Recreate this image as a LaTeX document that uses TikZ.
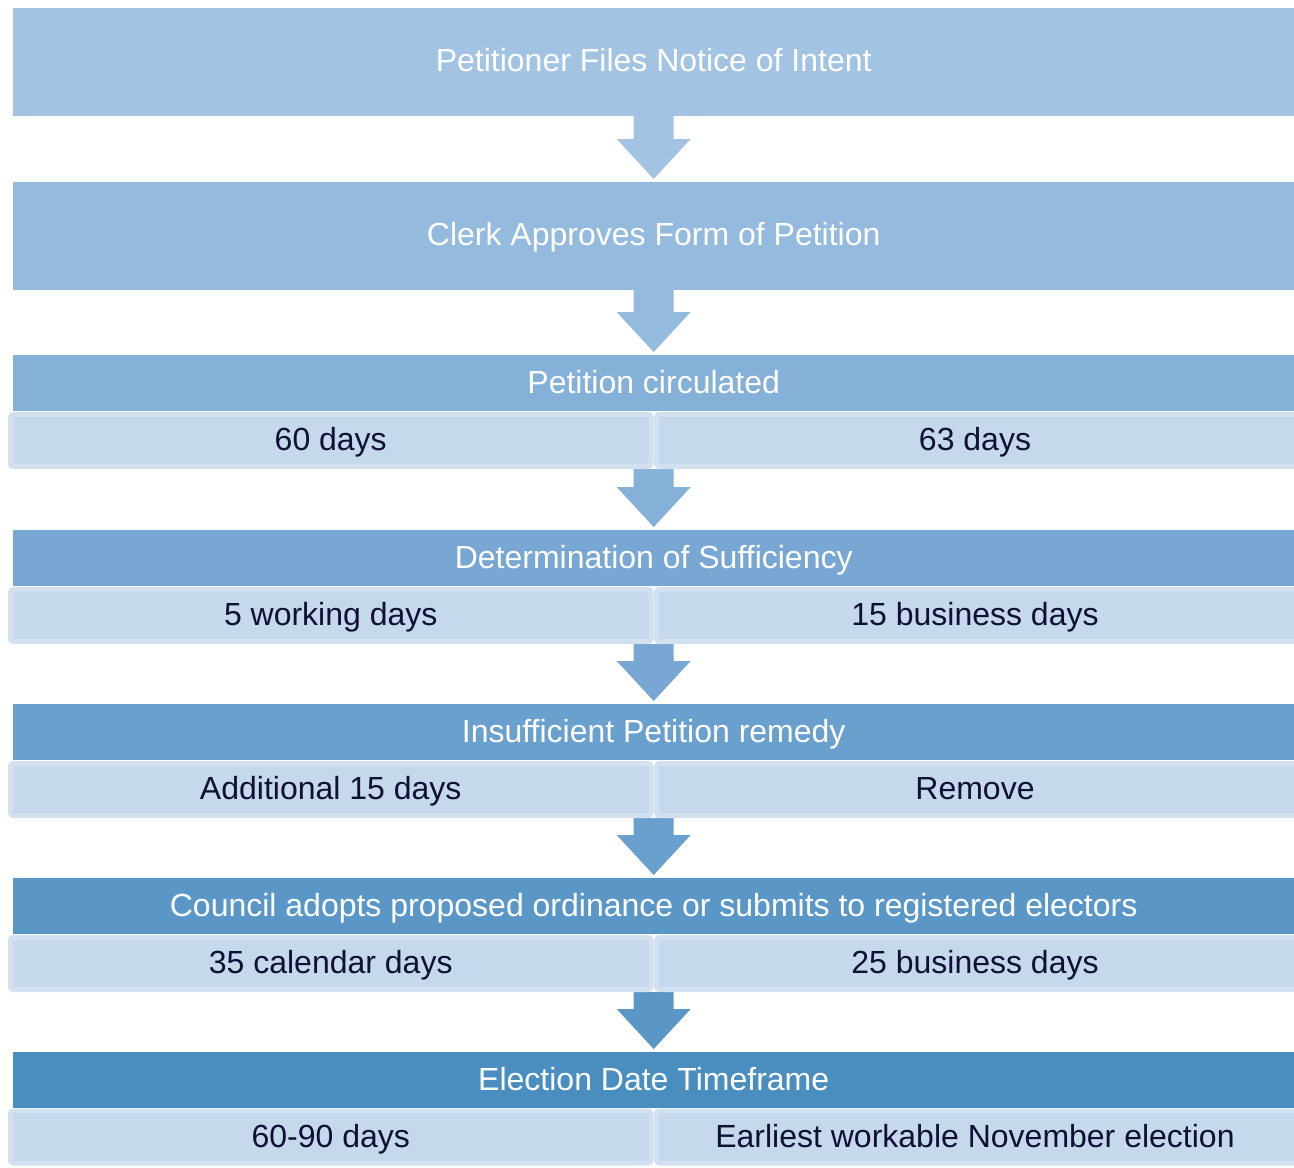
\documentclass[tikz,border=0pt]{standalone}
\usepackage{fontspec}
\setmainfont{Liberation Sans}
\usetikzlibrary{calc}
\pgfdeclarelayer{background}
\pgfsetlayers{background,main}
\definecolor{cA}{HTML}{A3C3E2}
\definecolor{cB}{HTML}{94BADD}
\definecolor{cC}{HTML}{85B0D7}
\definecolor{cD}{HTML}{77A7D2}
\definecolor{cE}{HTML}{69A0CD}
\definecolor{cF}{HTML}{5A97C7}
\definecolor{cG}{HTML}{4A8EC0}
\definecolor{subfill}{HTML}{C6D8EC}
\definecolor{subedge}{HTML}{D2E0F0}
\definecolor{navy}{HTML}{0F1035}
\newcommand{\dnarrow}[3]{%
  \begin{pgfonlayer}{background}
  \fill[#1] let \p1=(#2), \p2=(#3) in
    (\x2-20pt,\y1) -- (\x2-20pt,\y2+43pt) -- (\x2-37pt,\y2+43pt) --
    (\x2,\y2+3pt) -- (\x2+37pt,\y2+43pt) -- (\x2+20pt,\y2+43pt) --
    (\x2+20pt,\y1) -- cycle;
  \end{pgfonlayer}}
\newcommand{\rt}[1]{\hspace*{-5pt}#1}
\tikzset{
  txt/.style={font=\fontsize{32}{38}\selectfont, text height=26pt, text depth=6pt},
  bigbox/.style={txt, anchor=north west, inner sep=0pt, minimum width=1281pt,
    minimum height=107.5pt, text=white},
  hdr/.style={txt, anchor=north west, inner sep=0pt, minimum width=1281pt,
    minimum height=56pt, text=white},
  subbox/.style={txt, draw=subedge, fill=subfill, line width=5pt,
    rounded corners=3pt, inner sep=0pt, minimum height=52pt, text=navy},
  subl/.style={subbox, minimum width=640.5pt},
  subr/.style={subbox, minimum width=642pt},
}
\begin{document}
\begin{tikzpicture}[x=1pt,y=-1pt]
\useasboundingbox (0,0) rectangle (1294,1168);
\clip (0,0) rectangle (1294,1168);

\node[bigbox, fill=cA] (b1) at (13,8) {Petitioner Files Notice of Intent};
\node[bigbox, fill=cB] (b2) at (13,182) {Clerk Approves Form of Petition};

\node[hdr, fill=cC] (h3) at (13,355) {Petition circulated};
\node[subl] (s3l) at (330.75,440.5) {60 days};
\node[subr] (s3r) at (977.5,440.5) {\rt{63 days}};

\node[hdr, fill=cD] (h4) at (13,530) {Determination of Sufficiency};
\node[subl] (s4l) at (330.75,615.5) {5 working days};
\node[subr] (s4r) at (977.5,615.5) {\rt{15 business days}};

\node[hdr, fill=cE] (h5) at (13,704) {Insufficient Petition remedy};
\node[subl] (s5l) at (330.75,789.5) {Additional 15 days};
\node[subr] (s5r) at (977.5,789.5) {\rt{Remove}};

\node[hdr, fill=cF] (h6) at (13,878) {Council adopts proposed ordinance or submits to registered electors};
\node[subl] (s6l) at (330.75,963.5) {35 calendar days};
\node[subr] (s6r) at (977.5,963.5) {\rt{25 business days}};

\node[hdr, fill=cG] (h7) at (13,1052) {Election Date Timeframe};
\node[subl] (s7l) at (330.75,1137) {60-90 days};
\node[subr] (s7r) at (977.5,1137) {\rt{Earliest workable November election}};

\dnarrow{cA}{b1.south}{b2.north}
\dnarrow{cB}{b2.south}{h3.north}
\dnarrow{cC}{s3l.south}{h4.north}
\dnarrow{cD}{s4l.south}{h5.north}
\dnarrow{cE}{s5l.south}{h6.north}
\dnarrow{cF}{s6l.south}{h7.north}
\end{tikzpicture}
\end{document}
